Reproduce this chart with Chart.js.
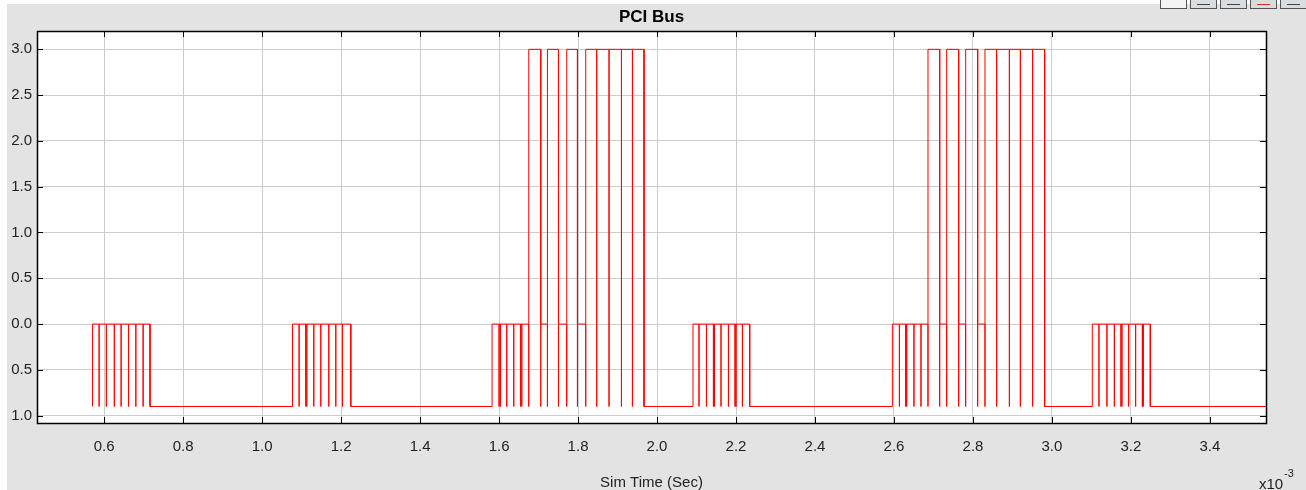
<!DOCTYPE html>
<html>
<head>
<meta charset="utf-8">
<title>PCI Bus</title>
<script src="https://cdn.jsdelivr.net/npm/chart.js@4.4.1/dist/chart.umd.min.js"></script>
<style>
  html, body { margin: 0; padding: 0; background: #fff; }
  #wrap { width: 1306px; height: 490px; }
</style>
</head>
<body>
<div id="wrap"><canvas id="busChart" width="1306" height="490"></canvas></div>
<script>
// bus level: idle sits at LOW, address/data phases at 0, bursts at 3
const LOW = -0.9;

// transition times (x10^-3 s) and the level entered at each one
const burst1Times  = [0.5706, 0.5873, 0.6056, 0.6258, 0.6430, 0.6618, 0.6803, 0.6987, 0.7162];
const burst1Levels = [0, 0, 0, 0, 0, 0, 0, 0, LOW];

const burst2Times  = [1.0770, 1.0937, 1.1106, 1.1132, 1.1309, 1.1486, 1.1689, 1.1866, 1.2035, 1.2246];
const burst2Levels = [0, 0, 0, 0, 0, 0, 0, 0, 0, LOW];

const burst3Times  = [1.5823, 1.6000, 1.6035, 1.6195, 1.6372, 1.6542, 1.6575, 1.6752, 1.7056, 1.7225,
                      1.7504, 1.7714, 1.7985, 1.8195, 1.8473, 1.8785, 1.9099, 1.9377, 1.9671];
const burst3Levels = [0, 0, 0, 0, 0, 0, 0, 3, 0, 3, 0, 3, 0, 3, 3, 3, 3, 3, LOW];

const burst4Times  = [2.0911, 2.1063, 2.1251, 2.1428, 2.1454, 2.1620, 2.1808, 2.1975, 2.2000, 2.2162, 2.2347];
const burst4Levels = [0, 0, 0, 0, 0, 0, 0, 0, 0, 0, LOW];

const burst5Times  = [2.5959, 2.6137, 2.6296, 2.6322, 2.6506, 2.6684, 2.6861, 2.7157, 2.7334, 2.7638,
                      2.7815, 2.8119, 2.8304, 2.8600, 2.8922, 2.9200, 2.9511, 2.9815];
const burst5Levels = [0, 0, 0, 0, 0, 0, 3, 0, 3, 0, 3, 0, 3, 3, 3, 3, 3, LOW];

const burst6Times  = [3.1022, 3.1190, 3.1392, 3.1580, 3.1747, 3.1772, 3.1942, 3.2119, 3.2289, 3.2314, 3.2491];
const burst6Levels = [0, 0, 0, 0, 0, 0, 0, 0, 0, 0, LOW];

const traceEnd = 3.56;

const xTickStep = 0.2;
const yTickStep = 0.5;

// every transition drops through the idle level before settling
const busTrace = [];
let level = LOW;
[
  [burst1Times, burst1Levels],
  [burst2Times, burst2Levels],
  [burst3Times, burst3Levels],
  [burst4Times, burst4Levels],
  [burst5Times, burst5Levels],
  [burst6Times, burst6Levels]
].forEach(([times, levels]) => {
  times.forEach((t, i) => {
    busTrace.push({x: t, y: level}, {x: t, y: LOW}, {x: t, y: levels[i]});
    level = levels[i];
  });
});
busTrace.push({x: traceEnd, y: level});

const FONT = "'Liberation Sans', Arial, sans-serif";

// grey panel, white plot area, toolbar buttons
const panelBg = {
  id: 'panelBg',
  beforeDraw(chart) {
    const ctx = chart.ctx, a = chart.chartArea;
    ctx.save();
    ctx.fillStyle = '#fff';
    ctx.fillRect(0, 0, chart.width, chart.height);
    ctx.fillStyle = '#e3e3e3';
    ctx.fillRect(7, 4, chart.width - 7, chart.height - 4);
    ctx.fillStyle = '#fff';
    ctx.fillRect(a.left, a.top, a.right - a.left, a.bottom - a.top);

    [1160, 1190, 1220, 1250, 1280].forEach((bx, i) => {
      ctx.fillStyle = i === 0 ? '#f4f4f4' : '#d9dde0';
      ctx.fillRect(bx, -3, 27, 12);
      ctx.strokeStyle = '#555';
      ctx.lineWidth = 1;
      ctx.strokeRect(bx + 0.5, -3.5, 26, 12);
      if (i > 0) {
        ctx.fillStyle = i === 3 ? '#c33' : '#444';
        ctx.fillRect(bx + 7, 4, 13, 1);
      }
    });
    ctx.restore();
  }
};

// black frame with inward tick marks on all four sides, plus the exponent
const frameTicks = {
  id: 'frameTicks',
  afterDraw(chart) {
    const ctx = chart.ctx, a = chart.chartArea;
    const xs = chart.scales.x, ys = chart.scales.y;
    const len = 6;
    ctx.save();
    ctx.strokeStyle = '#000';
    ctx.lineWidth = 1;
    ctx.beginPath();
    xs.ticks.forEach(t => {
      const px = Math.round(xs.getPixelForValue(t.value)) + 0.5;
      ctx.moveTo(px, a.bottom); ctx.lineTo(px, a.bottom - len);
      ctx.moveTo(px, a.top); ctx.lineTo(px, a.top + len);
    });
    ys.ticks.forEach(t => {
      const py = Math.round(ys.getPixelForValue(t.value)) + 0.5;
      ctx.moveTo(a.left, py); ctx.lineTo(a.left + len, py);
      ctx.moveTo(a.right, py); ctx.lineTo(a.right - len, py);
    });
    ctx.stroke();
    ctx.lineWidth = 1.5;
    ctx.strokeRect(Math.round(a.left) + 0.5, Math.round(a.top) + 0.5,
                   Math.round(a.right - a.left), Math.round(a.bottom - a.top));

    ctx.fillStyle = '#222';
    ctx.textBaseline = 'alphabetic';
    ctx.textAlign = 'left';
    ctx.font = '15px ' + FONT;
    ctx.fillText('x10', 1259, 489);
    ctx.font = '11px ' + FONT;
    ctx.fillText('-3', 1284, 477);
    ctx.restore();
  }
};

const busChart = new Chart(document.getElementById('busChart').getContext('2d'), {
  type: 'line',
  data: {
    datasets: [{
      label: 'PCI Bus',
      data: busTrace,
      borderColor: '#ff0000',
      borderWidth: 1,
      pointRadius: 0,
      tension: 0,
      fill: false
    }]
  },
  options: {
    responsive: false,
    animation: false,
    layout: { padding: { left: 0, right: 40, top: 0, bottom: 0 } },
    plugins: {
      legend: { display: false },
      tooltip: { enabled: false },
      title: {
        display: true,
        fullSize: false,
        text: 'PCI Bus',
        color: '#000',
        font: { family: FONT, size: 17, weight: 'bold' },
        padding: { top: 7, bottom: 3.6 }
      }
    },
    scales: {
      x: {
        type: 'linear',
        min: 0.43,
        max: 3.542,
        afterFit: s => { s.height = 67; },
        border: { display: false },
        grid: { color: '#cccccc', drawTicks: false },
        ticks: {
          stepSize: xTickStep,
          includeBounds: false,
          autoSkip: false,
          maxRotation: 0,
          padding: 15,
          color: '#222',
          font: { family: FONT, size: 15 },
          callback: v => v.toFixed(1)
        },
        title: {
          display: true,
          text: 'Sim Time (Sec)',
          color: '#222',
          font: { family: FONT, size: 15, lineHeight: 1 },
          padding: { top: 0, bottom: 0 }
        }
      },
      y: {
        min: -1.08,
        max: 3.2,
        afterFit: s => { s.width = 37; },
        border: { display: false },
        grid: { color: '#cccccc', drawTicks: false },
        ticks: {
          stepSize: yTickStep,
          includeBounds: false,
          padding: 5,
          color: '#222',
          font: { family: FONT, size: 15 },
          callback: v => Math.abs(v).toFixed(1)
        }
      }
    }
  },
  plugins: [panelBg, frameTicks]
});
</script>
</body>
</html>
